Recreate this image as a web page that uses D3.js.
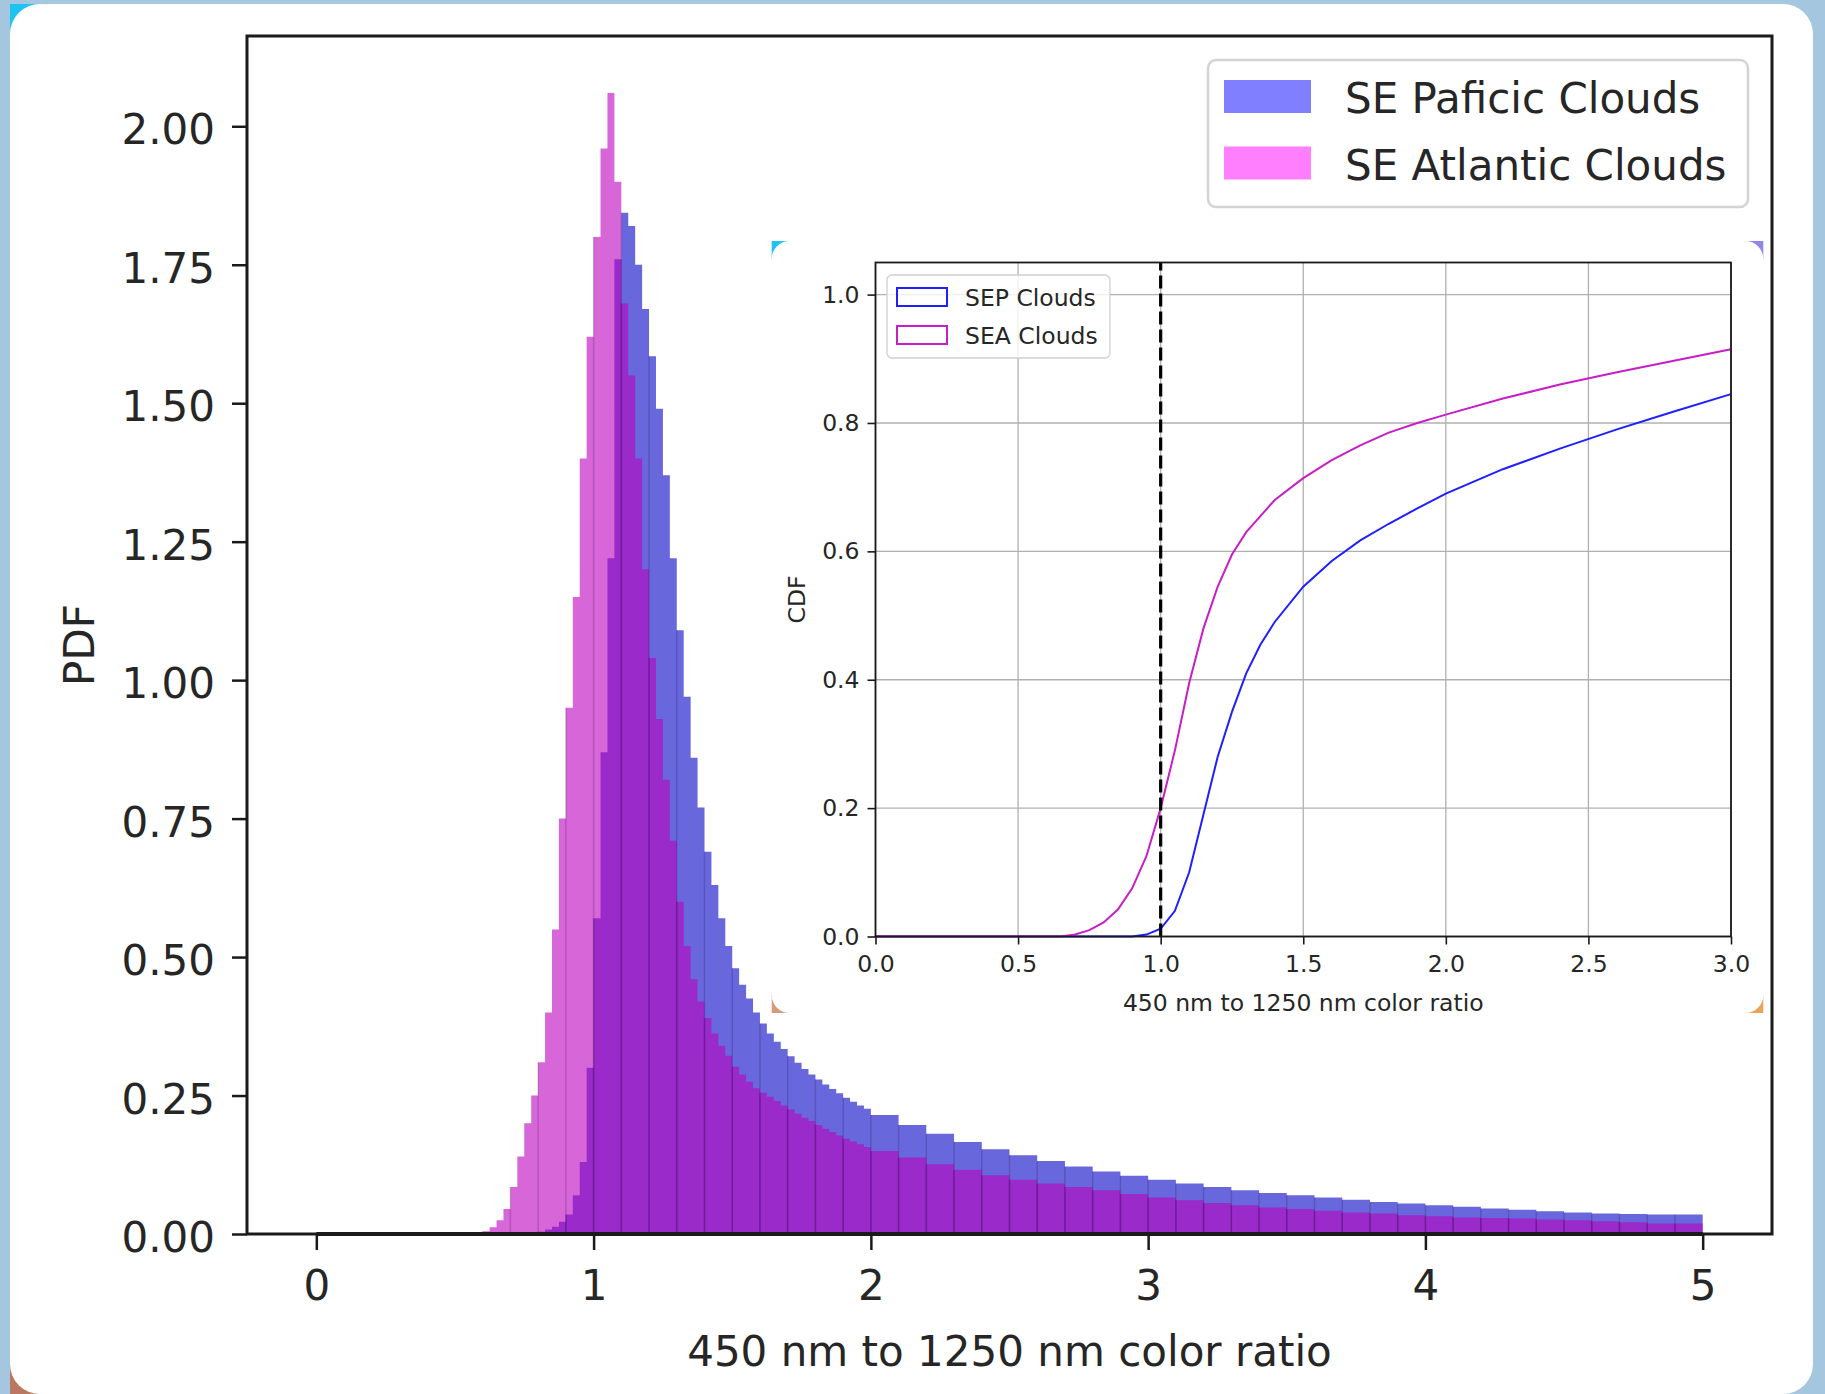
<!DOCTYPE html>
<html>
<head>
<meta charset="utf-8">
<script src="https://cdn.jsdelivr.net/npm/d3@7"></script>
<style>
  html, body { margin: 0; padding: 0; background: #a4c6df; }
  svg { display: block; }
</style>
</head>
<body>
<svg id="chart" width="1825" height="1394"></svg>
<script>
// ---------------- DATA ----------------
// PDF histogram, fine bins (0.025 wide) from 0.6 to 2.0
const fineBinStart = 0.6;
const fineBinWidth = 0.025;
const sepFine = [
  0, 0, 0, 0, 0, 0, 0, 0,
  0.004, 0.008, 0.013, 0.022, 0.035, 0.07, 0.13, 0.30,
  0.57, 0.87, 1.22, 1.76, 1.844, 1.82, 1.75, 1.67,
  1.585, 1.49, 1.37, 1.22, 1.09, 0.97, 0.86, 0.77,
  0.69, 0.63, 0.57, 0.52, 0.48, 0.45, 0.425, 0.40,
  0.38, 0.362, 0.347, 0.334, 0.321, 0.309, 0.298, 0.288,
  0.279, 0.27, 0.262, 0.254, 0.246, 0.239, 0.232, 0.226
];
const seaFine = [
  0.005, 0.012, 0.025, 0.045, 0.085, 0.14, 0.2, 0.25,
  0.31, 0.40, 0.55, 0.75, 0.95, 1.15, 1.40, 1.62,
  1.80, 1.96, 2.06, 1.90, 1.68, 1.55, 1.40, 1.20,
  1.04, 0.93, 0.82, 0.71, 0.60, 0.52, 0.46, 0.42,
  0.39, 0.362, 0.34, 0.322, 0.302, 0.288, 0.275, 0.263,
  0.255, 0.248, 0.24, 0.232, 0.225, 0.217, 0.21, 0.204,
  0.197, 0.19, 0.184, 0.178, 0.172, 0.167, 0.162, 0.157
];
// PDF tail, visible steps 0.1 wide from 2.0 to 5.0
const tailBinStart = 2.0;
const tailBinWidth = 0.1;
const sepTail = [
  0.215, 0.197, 0.181, 0.166, 0.153, 0.142, 0.132, 0.122, 0.113, 0.105,
  0.098, 0.091, 0.085, 0.079, 0.074, 0.070, 0.066, 0.062, 0.058, 0.055,
  0.052, 0.049, 0.046, 0.044, 0.041, 0.039, 0.037, 0.036, 0.035, 0.035
];
const seaTail = [
  0.150, 0.138, 0.126, 0.116, 0.106, 0.098, 0.091, 0.085, 0.079, 0.072,
  0.066, 0.061, 0.056, 0.052, 0.048, 0.045, 0.042, 0.039, 0.037, 0.034,
  0.032, 0.030, 0.029, 0.028, 0.026, 0.025, 0.023, 0.021, 0.019, 0.019
];
const pdfXTicks = [0, 1, 2, 3, 4, 5];
const pdfYTicks = [0, 0.25, 0.5, 0.75, 1.0, 1.25, 1.5, 1.75, 2.0];
const mainLegend = ["SE Paficic Clouds", "SE Atlantic Clouds"];

// CDF (inset)
const sepCdfX = [0, 0.9, 0.95, 1.0, 1.05, 1.1, 1.15, 1.2, 1.25, 1.3, 1.35, 1.4, 1.5, 1.6, 1.7, 1.8, 1.9, 2.0, 2.2, 2.4, 2.6, 2.8, 3.0];
const sepCdf  = [0, 0, 0.003, 0.012, 0.04, 0.1, 0.19, 0.28, 0.35, 0.41, 0.455, 0.49, 0.545, 0.585, 0.617, 0.643, 0.667, 0.69, 0.728, 0.76, 0.79, 0.818, 0.845];
const seaCdfX = [0, 0.65, 0.7, 0.75, 0.8, 0.85, 0.9, 0.95, 1.0, 1.05, 1.1, 1.15, 1.2, 1.25, 1.3, 1.4, 1.5, 1.6, 1.7, 1.8, 1.9, 2.0, 2.2, 2.4, 2.6, 2.8, 3.0];
const seaCdf  = [0, 0, 0.003, 0.01, 0.022, 0.042, 0.075, 0.125, 0.2, 0.29, 0.395, 0.48, 0.545, 0.595, 0.63, 0.68, 0.714, 0.742, 0.765, 0.785, 0.8, 0.813, 0.838, 0.86, 0.879, 0.897, 0.915];
const cdfXTicks = [0, 0.5, 1.0, 1.5, 2.0, 2.5, 3.0];
const cdfYTicks = [0, 0.2, 0.4, 0.6, 0.8, 1.0];
const cdfThreshold = 1.0;
const insetLegend = ["SEP Clouds", "SEA Clouds"];

// ---------------- DRAW ----------------
const FONT = "'DejaVu Sans', 'Liberation Sans', sans-serif";
const TXT = "#262626";
const svg = d3.select("#chart");

// outer frame (screenshot-like)
svg.append("rect").attr("x", 0).attr("y", 0).attr("width", 1825).attr("height", 1394).attr("fill", "#a4c6df");
svg.append("rect").attr("x", 10).attr("y", 4).attr("width", 40).attr("height", 40).attr("fill", "#1fc3ef");
svg.append("rect").attr("x", 10).attr("y", 1354).attr("width", 40).attr("height", 40).attr("fill", "#b9785f");
svg.append("rect").attr("x", 10).attr("y", 4).attr("width", 1803).attr("height", 1390).attr("rx", 30).attr("fill", "#ffffff");

// main scales
const x = d3.scaleLinear().domain([-0.25, 5.25]).range([247, 1772]);
const y = d3.scaleLinear().domain([0, 2.163]).range([1234, 36]);

function makeBins(start, width, values) {
  return values.map((v, i) => ({ x0: start + i * width, x1: start + (i + 1) * width, v }));
}
const sepBins = makeBins(fineBinStart, fineBinWidth, sepFine).concat(makeBins(tailBinStart, tailBinWidth, sepTail));
const seaBins = makeBins(fineBinStart, fineBinWidth, seaFine).concat(makeBins(tailBinStart, tailBinWidth, seaTail));

function stepPoints(bins) {
  const pts = bins.map(b => [b.x0, b.v]);
  const last = bins[bins.length - 1];
  pts.push([last.x1, last.v]);
  return pts;
}
const area = d3.area()
  .curve(d3.curveStepAfter)
  .x(d => x(d[0]))
  .y0(y(0))
  .y1(d => y(d[1]));

const plot = svg.append("g");
plot.append("path").attr("d", area(stepPoints(sepBins))).attr("fill", "#6868dc");
plot.append("path").attr("d", area(stepPoints(seaBins))).attr("fill", "#bc02be").attr("fill-opacity", 0.6);

// faint bar edges every 0.1
function edgeBins(bins) {
  return bins.filter(b => Math.abs(b.x0 * 10 - Math.round(b.x0 * 10)) < 1e-6 && b.v > 0);
}
[sepBins, seaBins].forEach(bins => {
  plot.selectAll(null).data(edgeBins(bins)).enter().append("line")
    .attr("x1", d => x(d.x0)).attr("x2", d => x(d.x0))
    .attr("y1", y(0)).attr("y2", d => y(d.v))
    .attr("stroke", "rgba(40,0,70,0.2)").attr("stroke-width", 1.5);
});

// zero-line of the zero-height bars
plot.append("line").attr("x1", x(0)).attr("x2", x(5)).attr("y1", y(0)).attr("y2", y(0))
  .attr("stroke", "#1a1a1a").attr("stroke-width", 4);

// main frame
svg.append("rect").attr("x", 247).attr("y", 36).attr("width", 1772 - 247).attr("height", 1234 - 36)
  .attr("fill", "none").attr("stroke", "#1a1a1a").attr("stroke-width", 3);

// main axes
const xAxis = d3.axisBottom(x).tickValues(pdfXTicks).tickFormat(d3.format("d")).tickSize(16).tickPadding(20);
const gx = svg.append("g").attr("transform", `translate(0,1234)`).call(xAxis);
gx.select(".domain").remove();
gx.selectAll(".tick line").attr("stroke", "#1a1a1a").attr("stroke-width", 2.5);
gx.selectAll(".tick text").attr("font-family", FONT).attr("font-size", 42).attr("fill", TXT);

const yAxis = d3.axisLeft(y).tickValues(pdfYTicks).tickFormat(d3.format(".2f")).tickSize(15).tickPadding(17);
const gy = svg.append("g").attr("transform", `translate(247,0)`).call(yAxis);
gy.select(".domain").remove();
gy.selectAll(".tick line").attr("stroke", "#1a1a1a").attr("stroke-width", 2.5);
gy.selectAll(".tick text").attr("font-family", FONT).attr("font-size", 42).attr("fill", TXT)
  .attr("dy", "0.42em");

svg.append("text").attr("x", (247 + 1772) / 2).attr("y", 1366).attr("text-anchor", "middle")
  .attr("font-family", FONT).attr("font-size", 42).attr("fill", TXT)
  .text("450 nm to 1250 nm color ratio");
svg.append("text").attr("transform", "translate(94,645) rotate(-90)").attr("text-anchor", "middle")
  .attr("font-family", FONT).attr("font-size", 42).attr("fill", TXT).text("PDF");

// main legend
const lg = svg.append("g");
lg.append("rect").attr("x", 1208).attr("y", 60).attr("width", 540).attr("height", 147).attr("rx", 8)
  .attr("fill", "#ffffff").attr("stroke", "#d4d4d4").attr("stroke-width", 2.5);
const legendSwatch = ["#7f7fff", "#ff7fff"];
mainLegend.forEach((name, i) => {
  const yy = 80 + i * 66.5;
  lg.append("rect").attr("x", 1224).attr("y", yy).attr("width", 87).attr("height", 33).attr("fill", legendSwatch[i]);
  lg.append("text").attr("x", 1345).attr("y", yy + 33).attr("font-family", FONT).attr("font-size", 42)
    .attr("fill", TXT).text(name);
});

// ---------------- INSET ----------------
const inset = svg.append("g");
const pL = 771.7, pT = 241, pR = 1763.3, pB = 1013, cr = 18;
inset.append("rect").attr("x", pL).attr("y", pT).attr("width", cr).attr("height", cr).attr("fill", "#1fc3ef");
inset.append("rect").attr("x", pR - cr).attr("y", pT).attr("width", cr).attr("height", cr).attr("fill", "#8f86ea");
inset.append("rect").attr("x", pL).attr("y", pB - cr).attr("width", cr).attr("height", cr).attr("fill", "#d69a7c");
inset.append("rect").attr("x", pR - cr).attr("y", pB - cr).attr("width", cr).attr("height", cr).attr("fill", "#e7a45a");
inset.append("rect").attr("x", pL).attr("y", pT).attr("width", pR - pL).attr("height", pB - pT).attr("rx", cr)
  .attr("fill", "#ffffff");

const xi = d3.scaleLinear().domain([0, 3]).range([875.5, 1731]);
const yi = d3.scaleLinear().domain([0, 1.05]).range([936.5, 262.5]);

// grid
inset.selectAll(null).data(cdfXTicks).enter().append("line")
  .attr("x1", d => xi(d)).attr("x2", d => xi(d)).attr("y1", yi(0)).attr("y2", yi(1.05))
  .attr("stroke", "#b0b0b0").attr("stroke-width", 1.3);
inset.selectAll(null).data(cdfYTicks).enter().append("line")
  .attr("x1", xi(0)).attr("x2", xi(3)).attr("y1", d => yi(d)).attr("y2", d => yi(d))
  .attr("stroke", "#b0b0b0").attr("stroke-width", 1.3);

const cdfLine = d3.line().x(d => xi(d[0])).y(d => yi(d[1]));
inset.append("path").attr("d", cdfLine(sepCdfX.map((u, i) => [u, sepCdf[i]])))
  .attr("fill", "none").attr("stroke", "#1f1fff").attr("stroke-width", 2);
inset.append("path").attr("d", cdfLine(seaCdfX.map((u, i) => [u, seaCdf[i]])))
  .attr("fill", "none").attr("stroke", "#c81ec8").attr("stroke-width", 2);

inset.append("line").attr("x1", xi(cdfThreshold)).attr("x2", xi(cdfThreshold))
  .attr("y1", yi(0)).attr("y2", yi(1.05))
  .attr("stroke", "#000").attr("stroke-width", 3.2).attr("stroke-dasharray", "13,5");

inset.append("rect").attr("x", xi(0)).attr("y", yi(1.05)).attr("width", xi(3) - xi(0)).attr("height", yi(0) - yi(1.05))
  .attr("fill", "none").attr("stroke", "#1a1a1a").attr("stroke-width", 1.8);

const xiAxis = d3.axisBottom(xi).tickValues(cdfXTicks).tickFormat(d3.format(".1f")).tickSize(8).tickPadding(11);
const gxi = inset.append("g").attr("transform", `translate(0,${yi(0)})`).call(xiAxis);
gxi.select(".domain").remove();
gxi.selectAll(".tick line").attr("stroke", "#1a1a1a").attr("stroke-width", 1.6);
gxi.selectAll(".tick text").attr("font-family", FONT).attr("font-size", 23.5).attr("fill", TXT);

const yiAxis = d3.axisLeft(yi).tickValues(cdfYTicks).tickFormat(d3.format(".1f")).tickSize(8).tickPadding(8);
const gyi = inset.append("g").attr("transform", `translate(${xi(0)},0)`).call(yiAxis);
gyi.select(".domain").remove();
gyi.selectAll(".tick line").attr("stroke", "#1a1a1a").attr("stroke-width", 1.6);
gyi.selectAll(".tick text").attr("font-family", FONT).attr("font-size", 23.5).attr("fill", TXT);

inset.append("text").attr("x", (xi(0) + xi(3)) / 2).attr("y", 1011).attr("text-anchor", "middle")
  .attr("font-family", FONT).attr("font-size", 23.5).attr("fill", TXT).text("450 nm to 1250 nm color ratio");
inset.append("text").attr("transform", `translate(805,${(yi(0) + yi(1.05)) / 2}) rotate(-90)`).attr("text-anchor", "middle")
  .attr("font-family", FONT).attr("font-size", 23.5).attr("fill", TXT).text("CDF");

// inset legend
const il = inset.append("g");
il.append("rect").attr("x", 887).attr("y", 275).attr("width", 223).attr("height", 83).attr("rx", 5)
  .attr("fill", "#ffffff").attr("fill-opacity", 0.8).attr("stroke", "#d0d0d0").attr("stroke-width", 1.3);
const insetColors = ["#1f1fff", "#c81ec8"];
insetLegend.forEach((name, i) => {
  const yy = 288 + i * 38;
  il.append("rect").attr("x", 897).attr("y", yy).attr("width", 50).attr("height", 18)
    .attr("fill", "none").attr("stroke", insetColors[i]).attr("stroke-width", 2);
  il.append("text").attr("x", 965).attr("y", yy + 18).attr("font-family", FONT).attr("font-size", 23.5)
    .attr("fill", TXT).text(name);
});
</script>
</body>
</html>
